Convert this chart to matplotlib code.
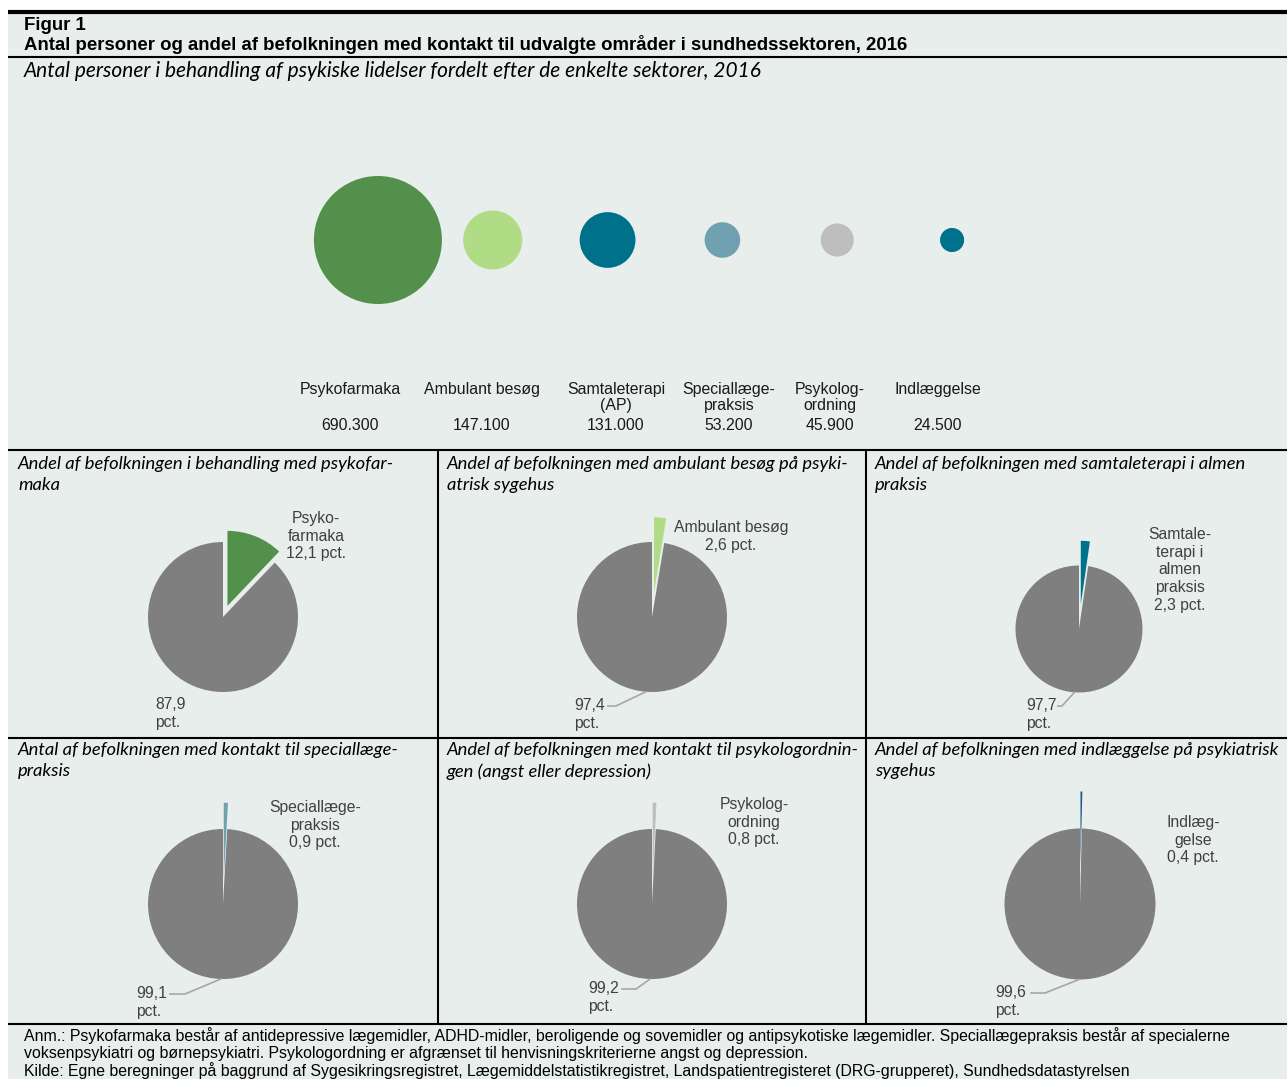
import matplotlib
matplotlib.use('Agg')
import matplotlib.pyplot as plt
from matplotlib.lines import Line2D
from matplotlib.patches import Rectangle
import numpy as np

# data
sectors = ['Psykofarmaka', 'Ambulant besøg', 'Samtaleterapi\n(AP)', 'Speciallæge-\npraksis',
           'Psykolog-\nordning', 'Indlæggelse']
persons = [690300, 147100, 131000, 53200, 45900, 24500]
bubble_colors = ['#52904C', '#B1DC86', '#00718B', '#6FA1B1', '#BEBEBE', '#00718B']

panel_titles = [
    'Andel af befolkningen i behandling med psykofar-\nmaka',
    'Andel af befolkningen med ambulant besøg på psyki-\natrisk sygehus',
    'Andel af befolkningen med samtaleterapi i almen\npraksis',
    'Antal af befolkningen med kontakt til speciallæge-\npraksis',
    'Andel af befolkningen med kontakt til psykologordnin-\ngen (angst eller depression)',
    'Andel af befolkningen med indlæggelse på psykiatrisk\nsygehus',
]
share_pct = [12.1, 2.6, 2.3, 0.9, 0.8, 0.4]
share_names = ['Psyko-\nfarmaka', 'Ambulant besøg', 'Samtale-\nterapi i\nalmen\npraksis',
               'Speciallæge-\npraksis', 'Psykolog-\nordning', 'Indlæg-\ngelse']
slice_colors = ['#52904C', '#B1DC86', '#00718B', '#6FA1B1', '#BEBEBE', '#1F5A8C']

W, H = 1287, 1079
BG = '#E8EEEB'
TXT = '#404040'
SANS = 'Liberation Sans'
ITAL = 'Lato'


def fx(x):
    return x / W


def fy(y):
    return 1 - y / H


def hline(y, x0, x1, lw):
    fig.add_artist(Line2D([fx(x0), fx(x1)], [fy(y), fy(y)], color='black', lw=lw,
                          transform=fig.transFigure, solid_capstyle='butt'))


def vline(x, y0, y1, lw):
    fig.add_artist(Line2D([fx(x), fx(x)], [fy(y0), fy(y1)], color='black', lw=lw,
                          transform=fig.transFigure, solid_capstyle='butt'))


def fmt_dk(v):
    return f'{v:,}'.replace(',', '.')


fig = plt.figure(figsize=(W / 100, H / 100), dpi=100)
fig.patch.set_facecolor('white')
fig.add_artist(Rectangle((fx(8), 0), 1 - fx(8), fy(12), transform=fig.transFigure,
                         facecolor=BG, edgecolor='none', zorder=0))

# frame lines
hline(12, 8, W, 3.0)
hline(57, 8, W, 1.5)
hline(450, 8, W, 1.5)
hline(738, 8, W, 1.5)
hline(1024, 8, W, 1.5)
vline(438, 450, 1024, 1.5)
vline(866, 450, 1024, 1.5)

# headings
fig.text(fx(24), fy(25), 'Figur 1', fontsize=13.4, fontweight='bold', family=SANS, va='center')
fig.text(fx(24), fy(45), 'Antal personer og andel af befolkningen med kontakt til udvalgte områder i '
         'sundhedssektoren, 2016', fontsize=13.4, fontweight='bold', family=SANS, va='center')
fig.text(fx(24), fy(71), 'Antal personer i behandling af psykiske lidelser fordelt efter de enkelte '
         'sektorer, 2016', fontsize=15, style='italic', family=ITAL, va='center')

# bubbles
bx = fig.add_axes([fx(320.5), fy(340), 689 / W, 200 / H])
bx.set_xlim(-0.5, len(persons) - 0.5)
bx.set_ylim(-1, 1)
bx.axis('off')
scale = (2 * 64 * 0.72) ** 2 / max(persons)
bx.scatter(range(len(persons)), [0] * len(persons), s=np.array(persons) * scale,
           c=bubble_colors, edgecolors='none', clip_on=False)

label_x = [350, 482, 616, 729, 830, 938]
for i, (name, val) in enumerate(zip(sectors, persons)):
    fig.text(fx(label_x[i]), fy(382), name, ha='center', va='top', fontsize=11.4,
             family=SANS, color='#1A1A1A', linespacing=1.1)
    fig.text(fx(label_x[i]), fy(425), fmt_dk(val), ha='center', va='center', fontsize=11.4,
             family=SANS, color='#1A1A1A')

# pies
pie_center = [(223, 617), (652, 617), (1079, 629), (223, 904), (652, 904), (1080, 904)]
pie_radius = [75, 75, 63.5, 75, 75, 75.5]
explode = [0.16, 0.33, 0.39, 0.35, 0.35, 0.49]
title_pos = [(18, 456), (447, 456), (875, 456), (18, 742), (447, 742), (875, 742)]
small_pos = [(316, 511), (731, 520), (1180, 527), (315, 800), (754, 797), (1193, 815)]
big_pos = [(155, 697), (574, 698), (1026, 698), (136, 986), (588, 981), (995, 985)]
leader_end = [None, (608, 706), (1058, 706), (170, 994), (622, 989), (1031, 993)]
leader_knee = [None, (616, 706), (1062, 706), (185, 994), (636, 989), (1045, 993)]

K = 1.7
for i in range(6):
    cxp, cyp = pie_center[i]
    r = pie_radius[i]
    side = 2 * K * r
    ax = fig.add_axes([fx(cxp - K * r), fy(cyp + K * r), side / W, side / H])
    ax.pie([share_pct[i], 100 - share_pct[i]], colors=[slice_colors[i], '#7F7F7F'],
           startangle=90, counterclock=False, explode=[explode[i], 0],
           wedgeprops=dict(edgecolor='none', linewidth=0))
    ax.set_xlim(-K, K)
    ax.set_ylim(-K, K)
    ax.axis('off')

    tx, ty = title_pos[i]
    fig.text(fx(tx), fy(ty), panel_titles[i], fontsize=13.2, style='italic', family=ITAL,
             va='top', ha='left', linespacing=1.4)

    sx, sy = small_pos[i]
    fig.text(fx(sx), fy(sy), share_names[i] + '\n' + f'{share_pct[i]:.1f}'.replace('.', ',') + ' pct.',
             ha='center', va='top', fontsize=11.3, family=SANS, color=TXT, linespacing=1.22)

    lx, ly = big_pos[i]
    fig.text(fx(lx), fy(ly), f'{100 - share_pct[i]:.1f}'.replace('.', ',') + '\npct.',
             ha='left', va='top', fontsize=11.3, family=SANS, color=TXT, linespacing=1.22)

    if leader_end[i] is not None:
        mid = np.deg2rad(90 - 360 * share_pct[i] / 100 - 360 * (100 - share_pct[i]) / 200)
        ex, ey = cxp + r * np.cos(mid), cyp - r * np.sin(mid)
        kx, ky = leader_knee[i]
        lx2, ly2 = leader_end[i]
        fig.add_artist(Line2D([fx(ex), fx(kx), fx(lx2)], [fy(ey), fy(ky), fy(ly2)],
                              color='#A6A6A6', lw=1.2, transform=fig.transFigure))

# notes
notes = ['Anm.: Psykofarmaka består af antidepressive lægemidler, ADHD-midler, beroligende og sovemidler og '
         'antipsykotiske lægemidler. Speciallægepraksis består af specialerne',
         'voksenpsykiatri og børnepsykiatri. Psykologordning er afgrænset til henvisningskriterierne angst og '
         'depression.',
         'Kilde: Egne beregninger på baggrund af Sygesikringsregistret, Lægemiddelstatistikregistret, '
         'Landspatientregisteret (DRG-grupperet), Sundhedsdatastyrelsen']
for j, line in enumerate(notes):
    fig.text(fx(24), fy(1036 + j * 17.5), line, fontsize=11.4, family=SANS, va='center')

fig.savefig('out.png', dpi=100, facecolor=fig.get_facecolor())
